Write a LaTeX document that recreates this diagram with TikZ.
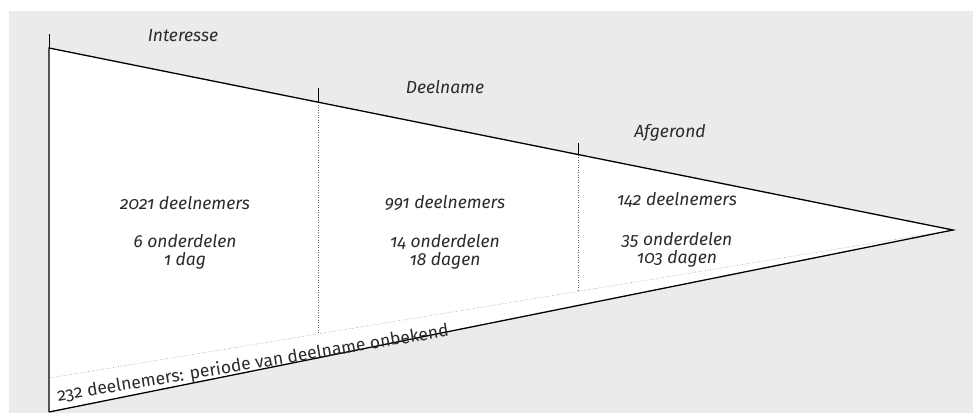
\documentclass[tikz,border=0pt]{standalone}
\usepackage{fontspec}
\setmainfont{Fira Sans}[Numbers=OldStyle]
\definecolor{panel}{HTML}{EBEBEB}
\definecolor{ink}{HTML}{2B2B2B}
\begin{document}
\begin{tikzpicture}[x=1pt,y=-1pt,
  edge/.style={draw=black,line width=1.3pt},
  tick/.style={draw=black,line width=0.8pt},
  split/.style={draw=black!60,line width=0.5pt,dotted},
  lbl/.style={font=\itshape\fontsize{17.5}{18}\selectfont,text=ink,inner sep=0pt,align=center},
  cell/.style={lbl,font=\itshape\fontsize{17.5}{17.5}\selectfont}]
\useasboundingbox (0,0) rectangle (973,415);
\fill[panel] (9,11) rectangle (973,413);
% corners of the funnel
\coordinate (tl) at (49,48);
\coordinate (bl) at (49,412);
\coordinate (tip) at (953,230);
\coordinate (dl) at (49,378);
\coordinate (t1) at (318,102.2);
\coordinate (b1) at (318,334);
\coordinate (t2) at (578,154.5);
\coordinate (b2) at (578,291.4);
\fill[white] (tl) -- (tip) -- (bl) -- cycle;
% dotted separations
\draw[split] (dl) -- (tip);
\draw[split] (t1) -- (b1);
\draw[split] (t2) -- (b2);
% outline
\draw[edge] (bl) -- (tl) -- (tip) -- (bl);
% ticks above the stage borders
\coordinate (k0) at (49,34);
\coordinate (k1) at (318,88);
\coordinate (k2) at (578,143);
\draw[tick] (tl) -- (k0);
\draw[tick] (t1) -- (k1);
\draw[tick] (t2) -- (k2);
% stage names
\node[lbl] (s1) at (183,36) {Interesse};
\node[lbl] (s2) at (445,87) {Deelname};
\node[lbl] (s3) at (670,133) {Afgerond};
% stage figures
\node[cell] (c1a) at (185,203) {2021 deelnemers};
\node[cell] (c1b) at (185,252) {6 onderdelen\\1 dag};
\node[cell] (c2a) at (445,203) {991 deelnemers};
\node[cell] (c2b) at (445,252) {14 onderdelen\\18 dagen};
\node[cell] (c3a) at (677,200) {142 deelnemers};
\node[cell] (c3b) at (677,250) {35 onderdelen\\103 dagen};
% unknown period strip
\node[font=\fontsize{17.5}{19}\selectfont,text=ink,inner sep=0pt,rotate=9.5] (u) at (253,364) {232 deelnemers: periode van deelname onbekend};
\end{tikzpicture}
\end{document}
